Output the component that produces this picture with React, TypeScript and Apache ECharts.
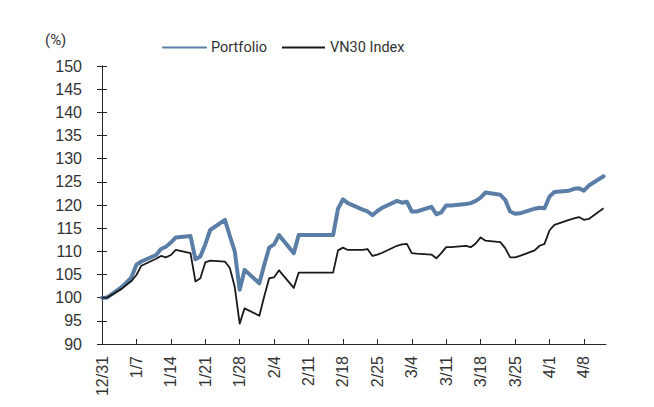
import React, { useEffect, useRef } from "react";
import * as echarts from "echarts";

const dates = [
  "2020-12-31", "2021-01-01", "2021-01-04", "2021-01-05", "2021-01-06", "2021-01-07", "2021-01-08",
  "2021-01-11", "2021-01-12", "2021-01-13", "2021-01-14", "2021-01-15",
  "2021-01-18", "2021-01-19", "2021-01-20", "2021-01-21", "2021-01-22",
  "2021-01-25", "2021-01-26", "2021-01-27", "2021-01-28", "2021-01-29",
  "2021-02-01", "2021-02-02", "2021-02-03", "2021-02-04", "2021-02-05",
  "2021-02-08", "2021-02-09", "2021-02-10", "2021-02-11", "2021-02-12",
  "2021-02-15", "2021-02-16", "2021-02-17", "2021-02-18", "2021-02-19",
  "2021-02-22", "2021-02-23", "2021-02-24", "2021-02-25", "2021-02-26",
  "2021-03-01", "2021-03-02", "2021-03-03", "2021-03-04", "2021-03-05",
  "2021-03-08", "2021-03-09", "2021-03-10", "2021-03-11", "2021-03-12",
  "2021-03-15", "2021-03-16", "2021-03-17", "2021-03-18", "2021-03-19",
  "2021-03-22", "2021-03-23", "2021-03-24", "2021-03-25", "2021-03-26",
  "2021-03-29", "2021-03-30", "2021-03-31", "2021-04-01", "2021-04-02",
  "2021-04-05", "2021-04-06", "2021-04-07", "2021-04-08", "2021-04-09",
  "2021-04-12",
];

const portfolio = [
  100.0, 100.0, 102.3, 103.3, 104.4, 107.1, 107.8,
  109.2, 110.5, 111.0, 111.9, 113.0,
  113.3, 108.3, 108.9, 111.5, 114.6,
  116.8, 113.3, 110.0, 101.7, 106.0,
  103.1, 107.1, 110.8, 111.5, 113.5,
  109.6, 113.5, 113.5, 113.5, 113.5,
  113.5, 113.5, 119.2, 121.2, 120.4,
  119.0, 118.6, 117.8, 118.7, 119.4,
  120.9, 120.5, 120.7, 118.6, 118.6,
  119.6, 118.0, 118.4, 119.9, 119.9,
  120.2, 120.4, 120.9, 121.6, 122.7,
  122.2, 121.1, 118.6, 118.1, 118.2,
  119.2, 119.4, 119.3, 121.8, 122.8,
  123.1, 123.5, 123.6, 123.1, 124.2,
  126.2,
];

const vn30 = [
  100.0, 100.0, 101.9, 102.8, 103.6, 104.9, 106.9,
  108.4, 109.0, 108.7, 109.2, 110.3,
  109.6, 103.5, 104.2, 107.6, 108.0,
  107.8, 106.4, 102.3, 94.4, 97.7,
  96.1, 100.3, 104.2, 104.4, 105.9,
  102.1, 105.4, 105.4, 105.4, 105.4,
  105.4, 105.4, 110.2, 110.8, 110.3,
  110.3, 110.5, 109.0, 109.3, 109.7,
  111.2, 111.5, 111.6, 109.6, 109.5,
  109.3, 108.5, 109.6, 110.9, 110.9,
  111.2, 110.9, 111.7, 113.0, 112.3,
  112.0, 110.7, 108.7, 108.7, 109.0,
  110.2, 111.2, 111.6, 114.5, 115.7,
  116.8, 117.1, 117.4, 116.8, 117.0,
  119.3,
];

const tickLabels = [
  "12/31", "1/7", "1/14", "1/21", "1/28", "2/4", "2/11", "2/18",
  "2/25", "3/4", "3/11", "3/18", "3/25", "4/1", "4/8",
];

const seriesNames = ["Portfolio", "VN30 Index"];
const DAY = 86400000;
const LEGENDFONT = "Roboto, 'Liberation Sans', sans-serif";
const AXISFONT = "'Liberation Sans', Arial, sans-serif";

export default function App() {
  const ref = useRef<HTMLDivElement>(null);
  useEffect(() => {
    document.body.style.margin = "0";
    const chart = echarts.init(ref.current!, null, { renderer: "svg" });
    const t0 = Date.parse(dates[0]);
    const toDay = (d: string) => Math.round((Date.parse(d) - t0) / DAY);
    const tickValues = tickLabels.map((_, i) => i * 7);
    const axisColor = "#262626";
    const textColor = "#333333";
    chart.setOption({
      animation: false,
      textStyle: { fontFamily: AXISFONT },
      grid: { left: 102, right: 48, top: 66, bottom: 63, containLabel: false },
      legend: {
        left: 157,
        top: 35,
        itemWidth: 43,
        itemHeight: 14,
        itemGap: 14,
        data: seriesNames,
        itemStyle: { opacity: 0 },
        textStyle: { fontFamily: LEGENDFONT, fontSize: 14.5, color: textColor },
      },
      graphic: [
        {
          type: "text",
          left: 45,
          top: 32,
          style: { text: "(%)", fontFamily: LEGENDFONT, fontSize: 15, fill: textColor },
        },
      ],
      xAxis: {
        type: "value",
        min: 0,
        max: 102.5,
        interval: 7,
        splitLine: { show: false },
        axisLine: { lineStyle: { color: axisColor, width: 1 } },
        axisTick: {
          inside: true,
          length: 5,
          customValues: tickValues,
          lineStyle: { color: axisColor },
        },
        axisLabel: {
          customValues: tickValues,
          rotate: 90,
          margin: 12,
          fontFamily: AXISFONT,
          fontSize: 16,
          color: textColor,
          formatter: (v: number) => tickLabels[Math.round(v / 7)] ?? "",
        },
      },
      yAxis: [
        {
          type: "value",
          min: 90,
          max: 150,
          interval: 5,
          splitLine: { show: false },
          axisLine: { show: true, lineStyle: { color: axisColor, width: 1 } },
          axisTick: { show: true, inside: false, length: 5, lineStyle: { color: axisColor } },
          axisLabel: { margin: 20, fontFamily: AXISFONT, fontSize: 16, color: textColor },
        },
        {
          type: "value",
          position: "left",
          min: 90,
          max: 150,
          interval: 5,
          splitLine: { show: false },
          axisLine: { show: true, lineStyle: { color: axisColor, width: 1 } },
          axisTick: { show: true, inside: true, length: 5, lineStyle: { color: axisColor } },
          axisLabel: { show: false },
        },
      ],
      series: [
        {
          name: seriesNames[0],
          type: "line",
          symbol: "none",
          data: dates.map((d, i) => [toDay(d), portfolio[i]]),
          lineStyle: { color: "#5b7ea7", width: 4, cap: "round", join: "round" },
          itemStyle: { color: "#5b7ea7" },
          z: 2,
        },
        {
          name: seriesNames[1],
          type: "line",
          symbol: "none",
          data: dates.map((d, i) => [toDay(d), vn30[i]]),
          lineStyle: { color: "#1a1a1a", width: 1.8, join: "round" },
          itemStyle: { color: "#1a1a1a" },
          z: 3,
        },
      ],
    });
    return () => chart.dispose();
  }, []);
  return <div ref={ref} style={{ width: 654, height: 407 }} />;
}
